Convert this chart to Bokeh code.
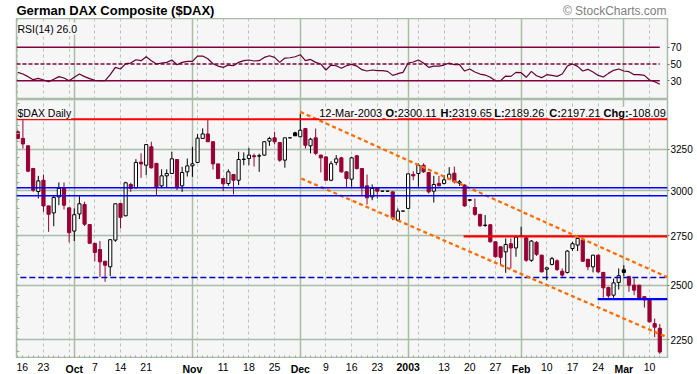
import pandas as pd
from bokeh.plotting import figure
from bokeh.layouts import column
from bokeh.models import (ColumnDataSource, FixedTicker, Grid, Label,
                          LogAxis, Range1d, Span, NumeralTickFormatter)
from bokeh.embed import file_html
from bokeh.resources import INLINE
from bokeh.core.properties import value

FONT = "Liberation Sans"

# ---------------- data ----------------
holidays = ["2002-12-25", "2003-01-01"]
dates = [d for d in pd.bdate_range("2002-09-16", "2003-03-12")
         if d.strftime("%Y-%m-%d") not in holidays]
date_str = [d.strftime("%Y-%m-%d") for d in dates]

opens = [3361, 3318, 3271, 3131, 2995, 3061, 2913, 2874, 2964, 3017,
         2902, 2775, 2868, 2921, 2810, 2710, 2678, 2618, 2590, 2727,
         2927, 2858, 3036, 3017, 3170, 3151, 3265, 3162, 3028, 3087,
         3101, 3186, 3028, 3111, 3147, 3168, 3318, 3347, 3297, 3159,
         3071, 3042, 3095, 3061, 3186, 3192, 3209, 3207, 3213, 3301,
         3322, 3292, 3182, 3322, 3354, 3329, 3382, 3271, 3322, 3213,
         3202, 3061, 3168, 3196, 3111, 3067, 3209, 3131, 3028, 2964,
         3017, 2997, 2997, 2993, 2834, 2884, 2899, 3095, 3101, 3151,
         3107, 2997, 3042, 3042, 3069, 3103, 3044, 3032, 2948, 2904,
         2866, 2805, 2809, 2718, 2692, 2666, 2708, 2686, 2748, 2739,
         2623, 2715, 2649, 2578, 2602, 2620, 2568, 2562, 2683, 2701,
         2727, 2628, 2590, 2649, 2562, 2489, 2452, 2513, 2575, 2541,
         2500, 2500, 2445, 2429, 2321, 2300.11]
highs = [3372, 3437, 3275, 3135, 3087, 3095, 2915, 2974, 3048, 3048,
         2904, 2899, 2968, 2936, 2812, 2712, 2722, 2620, 2732, 2925,
         2930, 3052, 3046, 3188, 3224, 3281, 3297, 3165, 3126, 3126,
         3234, 3188, 3141, 3192, 3265, 3347, 3383, 3437, 3299, 3162,
         3073, 3126, 3097, 3234, 3230, 3258, 3222, 3222, 3301, 3328,
         3361, 3295, 3322, 3322, 3361, 3480, 3387, 3322, 3382, 3216,
         3205, 3176, 3213, 3203, 3113, 3203, 3213, 3133, 3095, 3036,
         3022, 2997, 2997, 2997, 2899, 2884, 3099, 3115, 3162, 3162,
         3109, 3087, 3087, 3091, 3139, 3143, 3062, 3038, 2950, 2955,
         2868, 2862, 2811, 2720, 2694, 2736, 2736, 2753, 2798, 2741,
         2727, 2722, 2651, 2590, 2640, 2628, 2582, 2675, 2718, 2739,
         2729, 2630, 2649, 2651, 2565, 2492, 2532, 2582, 2598, 2546,
         2532, 2500, 2447, 2437, 2344, 2319.65]
lows = [3314, 3254, 3109, 2993, 2955, 2880, 2771, 2801, 2917, 2893,
        2715, 2722, 2840, 2802, 2708, 2618, 2540, 2516, 2544, 2718,
        2789, 2855, 2993, 3013, 3075, 3091, 3131, 2974, 3017, 3017,
        3099, 3003, 2993, 3083, 3081, 3164, 3315, 3295, 3125, 3069,
        2997, 3028, 2978, 3032, 3151, 3151, 3143, 3111, 3209, 3271,
        3280, 3172, 3136, 3322, 3335, 3329, 3254, 3224, 3213, 3107,
        3056, 3055, 3151, 3105, 3022, 3022, 3125, 2974, 2921, 2945,
        2955, 2997, 2997, 2834, 2829, 2884, 2897, 3061, 3022, 3105,
        2983, 2932, 3026, 3036, 3065, 3042, 3028, 2908, 2940, 2858,
        2798, 2798, 2715, 2636, 2598, 2560, 2582, 2641, 2745, 2615,
        2615, 2645, 2562, 2524, 2597, 2570, 2540, 2557, 2670, 2670,
        2615, 2573, 2562, 2560, 2440, 2440, 2440, 2479, 2544, 2468,
        2452, 2429, 2394, 2326, 2261, 2189.26]
closes = [3318, 3283, 3115, 3003, 3057, 2913, 2866, 2961, 3013, 2917,
          2766, 2864, 2925, 2812, 2710, 2663, 2615, 2598, 2729, 2925,
          2849, 3046, 3013, 3168, 3159, 3279, 3135, 3017, 3087, 3101,
          3190, 3017, 3107, 3147, 3159, 3320, 3347, 3297, 3159, 3071,
          3040, 3111, 3061, 3186, 3188, 3213, 3203, 3209, 3297, 3318,
          3297, 3182, 3322, 3322, 3335, 3371, 3275, 3313, 3224, 3196,
          3061, 3160, 3190, 3111, 3071, 3196, 3131, 3017, 2959, 3013,
          2997, 2997, 2997, 2847, 2884, 2884, 3099, 3087, 3151, 3111,
          2993, 3036, 3028, 3063, 3097, 3052, 3052, 2913, 2945, 2866,
          2803, 2807, 2718, 2641, 2638, 2704, 2686, 2743, 2750, 2623,
          2722, 2653, 2565, 2585, 2631, 2576, 2549, 2670, 2708, 2736,
          2618, 2590, 2649, 2565, 2487, 2449, 2511, 2546, 2562, 2500,
          2476, 2437, 2430, 2329, 2305.30, 2197.21]
rsi = [40.1, 38.1, 35.0, 31.4, 33.0, 31.0, 29.0, 31.8, 35.0, 33.4,
       30.2, 34.2, 38.1, 35.0, 32.6, 30.6, 30.2, 30.2, 37.3, 46.0,
       44.1, 50.4, 51.2, 55.1, 54.0, 58.7, 54.0, 50.0, 51.2, 52.0,
       54.8, 49.2, 52.0, 53.2, 53.2, 59.5, 59.5, 56.3, 50.4, 47.6,
       46.0, 48.8, 48.0, 52.0, 54.0, 54.8, 53.6, 54.0, 57.9, 59.9,
       57.9, 52.0, 57.1, 57.5, 58.7, 61.1, 54.0, 55.5, 52.0, 50.0,
       42.9, 48.8, 48.0, 44.9, 48.0, 49.6, 47.6, 43.3, 41.7, 42.9,
       42.1, 42.1, 41.3, 36.5, 38.5, 40.1, 51.2, 52.4, 54.8, 51.2,
       46.0, 47.6, 47.6, 48.8, 51.2, 49.2, 49.2, 41.7, 44.1, 40.5,
       38.1, 36.9, 34.2, 30.2, 30.2, 35.7, 35.3, 40.1, 39.7, 34.2,
       41.3, 36.1, 33.8, 37.3, 36.5, 35.3, 38.1, 47.6, 50.0, 47.2,
       41.7, 43.7, 40.5, 36.5, 34.6, 38.9, 42.5, 44.1, 41.7, 40.9,
       37.3, 37.3, 36.5, 31.0, 29.0, 26.0]

assert len(dates) == len(opens) == len(highs) == len(lows) == len(closes) == len(rsi)

day_labels = [("2002-09-16", "16"), ("2002-09-23", "23"), ("2002-10-07", "7"),
              ("2002-10-14", "14"), ("2002-10-21", "21"), ("2002-11-11", "11"),
              ("2002-11-18", "18"), ("2002-11-25", "25"), ("2002-12-09", "9"),
              ("2002-12-16", "16"), ("2002-12-23", "23"), ("2003-01-13", "13"),
              ("2003-01-20", "20"), ("2003-01-27", "27"), ("2003-02-10", "10"),
              ("2003-02-17", "17"), ("2003-02-24", "24"), ("2003-03-10", "10")]
month_labels = [("2002-10-01", "Oct"), ("2002-11-01", "Nov"), ("2002-12-02", "Dec"),
                ("2003-01-02", "2003"), ("2003-02-03", "Feb"), ("2003-03-03", "Mar")]
price_ticks = [2250, 2500, 2750, 3000, 3250]
rsi_ticks = [30, 50, 70]
rsi_levels = [70, 50, 30]

# annotation levels (prices) and their start positions (trading-day index)
resistance_top = 3444
support_band = [3017, 2971]
dashed_support = 2537
dashed_support_from = 0.5
resistance_2 = 2747
resistance_2_from = 86.8
support_2 = 2433
support_2_from = 112.9
channel_upper_x = [55.0, 126.45]
channel_upper_y = [3493, 2539]
channel_lower_x = [55.2, 126.5]
channel_lower_y = [3071, 2260]

# ---------------- styling ----------------
SAGE = "#A8BCA8"
SAGE_D = "#B4C6B4"
BG = "#F6F6F6"
RED_C = "#990033"
MAROON = "#800040"
X_START, X_END = -0.25, 126.5
FW = 651
BL, BR = 16, 26

pos = {s: i for i, s in enumerate(date_str)}
idx = list(range(len(dates)))
month_idx = [pos[d] for d, _ in month_labels]
monday_idx = [i for i, d in enumerate(dates) if d.weekday() == 0 and i not in month_idx]

colors, fills = [], []
for i, (o, c) in enumerate(zip(opens, closes)):
    col = "black" if (i > 0 and c >= closes[i - 1]) else RED_C
    colors.append(col)
    fills.append("white" if c > o else col)

src = ColumnDataSource(dict(
    x=idx, high=highs, low=lows,
    top=[max(o, c) for o, c in zip(opens, closes)],
    bottom=[min(o, c) for o, c in zip(opens, closes)],
    color=colors, fill=fills))

xr = Range1d(X_START, X_END)


def add_vgrids(fig):
    g1 = Grid(dimension=0, ticker=FixedTicker(ticks=monday_idx),
              grid_line_color=SAGE_D, grid_line_dash="3 3", grid_line_width=1)
    g2 = Grid(dimension=0, ticker=FixedTicker(ticks=month_idx),
              grid_line_color=SAGE, grid_line_width=1.5)
    fig.center.append(g1)
    fig.center.append(g2)


def text_strip(height):
    f = figure(frame_width=FW, frame_height=height, x_range=xr,
               y_range=Range1d(0, height),
               output_backend="svg", toolbar_location=None,
               x_axis_location=None, y_axis_location=None,
               min_border_left=BL, min_border_right=BR, min_border_top=0, min_border_bottom=0,
               background_fill_color="white", border_fill_color="white",
               outline_line_color=None)
    for g in f.grid:
        g.visible = False
    return f


# ---------------- title strip ----------------
pt = text_strip(18)
pt.text(x=[X_START], y=[15.5], text=["German DAX Composite ($DAX)"],
        text_font=value(FONT), text_font_size="13px", text_font_style="bold",
        text_color="black", text_align="left", text_baseline="top")
pt.text(x=[X_END - 0.2], y=[15.0], text=["\u00a9 StockCharts.com"],
        text_font=value(FONT), text_font_size="12px", text_color="#808080",
        text_align="right", text_baseline="top")

# ---------------- RSI panel ----------------
pr = figure(frame_width=FW, frame_height=81, x_range=xr, y_range=Range1d(7.8, 104.2),
            output_backend="svg", toolbar_location=None,
            x_axis_location=None, y_axis_location="right",
            min_border_left=BL, min_border_right=BR, min_border_top=0, min_border_bottom=0,
            background_fill_color=BG, border_fill_color="white",
            outline_line_color=SAGE, outline_line_width=1.5)
for g in pr.grid:
    g.visible = False
add_vgrids(pr)
pr.yaxis.ticker = FixedTicker(ticks=rsi_ticks)
pr.yaxis.axis_line_color = None
pr.yaxis.major_tick_out = 2
pr.yaxis.major_tick_in = 0
pr.yaxis.major_tick_line_color = "#777777"
pr.yaxis.minor_tick_line_color = None
pr.yaxis.major_label_standoff = 1
pr.yaxis.major_label_text_font = FONT
pr.yaxis.major_label_text_font_size = "10px"
pr.yaxis.major_label_text_color = "black"

for lv in rsi_levels:
    pr.segment(x0=[X_START], y0=[lv], x1=[idx[-1]], y1=[lv], line_color=MAROON,
               line_width=1.5, line_dash="4 2" if lv == 50 else "solid")
pr.line(idx, rsi, line_color="#660033", line_width=1.2)
pr.add_layout(Label(x=1, y=71, x_units="screen", y_units="screen",
                    text=f"RSI(14) {rsi[-1]:.1f}", text_font=FONT,
                    text_font_size="10.5px", text_color="black",
                    text_baseline="alphabetic", background_fill_color=BG))

# ---------------- price panel ----------------
p = figure(frame_width=FW, frame_height=259, x_range=xr, y_range=Range1d(2170, 3577),
           y_axis_type="log", y_axis_location="right",
           output_backend="svg", toolbar_location=None,
           min_border_left=BL, min_border_right=BR, min_border_top=0, min_border_bottom=0,
           background_fill_color=BG, border_fill_color="white",
           outline_line_color=SAGE, outline_line_width=1.5)
for g in p.xgrid:
    g.visible = False
for g in p.ygrid:
    g.ticker = FixedTicker(ticks=price_ticks)
    g.grid_line_color = SAGE
    g.grid_line_width = 1.5
add_vgrids(p)

p.yaxis.ticker = FixedTicker(ticks=price_ticks)
p.yaxis.formatter = NumeralTickFormatter(format="0")
p.yaxis.axis_line_color = None
p.yaxis.major_tick_out = 2
p.yaxis.major_tick_in = 0
p.yaxis.major_tick_line_color = "#777777"
p.yaxis.minor_tick_line_color = None
p.yaxis.major_label_standoff = 1
p.yaxis.major_label_text_font = FONT
p.yaxis.major_label_text_font_size = "10px"
p.yaxis.major_label_text_color = "black"

left_ax = LogAxis(ticker=FixedTicker(ticks=[], minor_ticks=list(range(2200, 3600, 50))),
                  axis_line_color=None, major_tick_in=0, major_tick_out=0,
                  minor_tick_in=3, minor_tick_out=0, minor_tick_line_color="#9AAE9A",
                  major_label_standoff=0)
p.add_layout(left_ax, "left")

# x axis only for the small daily tick marks (labels are drawn in the strip below)
p.xaxis.ticker = FixedTicker(ticks=[], minor_ticks=idx)
p.xaxis.axis_line_color = None
p.xaxis.major_tick_in = 0
p.xaxis.major_tick_out = 0
p.xaxis.minor_tick_in = 3
p.xaxis.minor_tick_out = 0
p.xaxis.minor_tick_line_color = "#9AAE9A"
p.xaxis.major_label_standoff = 0

# candles
p.segment(x0="x", y0="high", x1="x", y1="low", line_color="color", line_width=1, source=src)
p.vbar(x="x", width=0.62, top="top", bottom="bottom", fill_color="fill",
       line_color="color", line_width=1, source=src)

# annotation lines
p.add_layout(Span(location=resistance_top, dimension="width", line_color="#FF0000", line_width=2))
for lv in support_band:
    p.add_layout(Span(location=lv, dimension="width", line_color="#0000FF", line_width=1.5))
p.segment(x0=[dashed_support_from], y0=[dashed_support], x1=[X_END], y1=[dashed_support],
          line_color="#0000CC", line_width=1.5, line_dash="6 3")
p.segment(x0=[resistance_2_from], y0=[resistance_2], x1=[X_END], y1=[resistance_2],
          line_color="#FF0000", line_width=2.2)
p.segment(x0=[support_2_from], y0=[support_2], x1=[X_END], y1=[support_2],
          line_color="#0000FF", line_width=2.2)
p.line(channel_upper_x, channel_upper_y, line_color="#FF6A00", line_width=2.3, line_dash="4 3")
p.line(channel_lower_x, channel_lower_y, line_color="#FF6A00", line_width=2.3, line_dash="4 3")

# header texts (bold prefix followed by normal value; Arial-metric widths in em)
FS = 11
p.add_layout(Label(x=1, y=245.5, x_units="screen", y_units="screen", text="$DAX Daily",
                   text_font=FONT, text_font_size="10.5px", text_color="black",
                   text_baseline="alphabetic", background_fill_color=BG))
last_date = dates[-1].strftime("%d-%b-%Y")
chg = closes[-1] - closes[-2]
p.add_layout(Label(x=365.7, y=245.5, x_units="screen", y_units="screen", text=last_date,
                   text_font=FONT, text_font_size=f"{FS}px", text_color="black",
                   text_align="right", text_baseline="alphabetic", background_fill_color=BG))
header = [(369.0, "O:", 1.111, f"{opens[-1]:.2f}"),
          (424.0, "H:", 1.055, f"{highs[-1]:.2f}"),
          (477.7, "L:", 0.944, f"{lows[-1]:.2f}"),
          (532.7, "C:", 1.055, f"{closes[-1]:.2f}"),
          (587.0, "Chg:", 2.277, f"{chg:.2f}")]
for hx, pre, w_em, val in header:
    p.add_layout(Label(x=hx, y=245.5, x_units="screen", y_units="screen", text=pre,
                       text_font=FONT, text_font_size=f"{FS}px", text_font_style="bold",
                       text_color="black", text_baseline="alphabetic",
                       background_fill_color=BG))
    p.add_layout(Label(x=hx + w_em * FS, y=245.5, x_units="screen", y_units="screen", text=val,
                       text_font=FONT, text_font_size=f"{FS}px",
                       text_color="black", text_baseline="alphabetic",
                       background_fill_color=BG))

# ---------------- date label strip ----------------
pb = text_strip(16)
first = day_labels[0]
pb.text(x=[X_START], y=[12], text=[first[1]], text_font=value(FONT), text_font_size="10.5px",
        text_color="black", text_align="left", text_baseline="top")
rest = day_labels[1:]
pb.text(x=[pos[d] for d, _ in rest], y=[12] * len(rest),
        text=[t for _, t in rest], text_font=value(FONT), text_font_size="10.5px",
        text_color="black", text_align="center", text_baseline="top")
pb.text(x=month_idx, y=[12] * len(month_idx), text=[t for _, t in month_labels],
        text_font=value(FONT), text_font_size="10.5px", text_font_style="bold",
        text_color="black", text_align="center", text_baseline="top")

layout = column(pt, pr, p, pb, spacing=0)
open("out.html", "w").write(file_html(layout, INLINE))
